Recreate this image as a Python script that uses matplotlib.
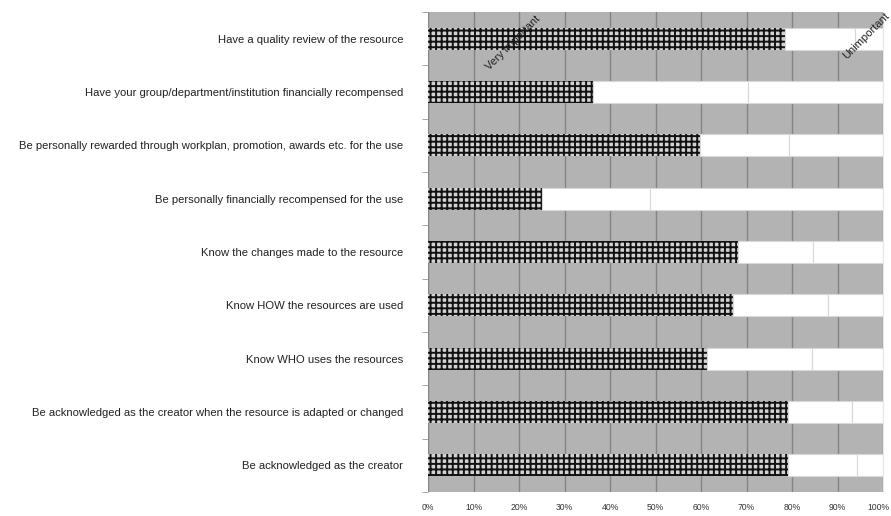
import numpy as np
import matplotlib
matplotlib.use('Agg')
from matplotlib import pyplot as plt
from matplotlib.transforms import ScaledTranslation

plt.rcParams['font.family'] = ['Liberation Sans Narrow', 'Liberation Sans', 'DejaVu Sans']
plt.rcParams['hatch.linewidth'] = 1.4

labels = ['Have a quality review of the resource',
          'Have your group/department/institution financially recompensed',
          'Be personally rewarded through workplan, promotion, awards etc. for the use',
          'Be personally financially recompensed for the use',
          'Know the changes made to the resource',
          'Know HOW the resources are used',
          'Know WHO uses the resources',
          'Be acknowledged as the creator when the resource is adapted or changed',
          'Be acknowledged as the creator']
very_important = [78.5, 36.3, 59.8, 25.0, 68.1, 67.0, 61.3, 79.1, 79.1]
middle = [15.3, 34.0, 19.5, 23.8, 16.5, 20.9, 23.1, 14.1, 15.2]
unimportant = [100 - a - b for a, b in zip(very_important, middle)]
xticks = [0, 10, 20, 30, 40, 50, 60, 70, 80, 90, 100]

fig = plt.figure(figsize=(8.91, 5.16), dpi=100)
ax = fig.add_axes([428/891, 1 - 492/516, 455/891, 480/516])
ax.set_facecolor('#b3b3b3')

y = np.arange(len(labels))[::-1]
h = 0.41
ax.barh(y, very_important, h, color='#d2d2d2', edgecolor='#111111', hatch='+++', linewidth=0)
ax.barh(y, middle, h, left=very_important, color='white', edgecolor='#d8d8d8', linewidth=0.8)
left2 = [a + b for a, b in zip(very_important, middle)]
ax.barh(y, unimportant, h, left=left2, color='white', edgecolor='#d8d8d8', linewidth=0.8)

ax.set_xlim(0, 100)
ax.set_ylim(-0.5, len(labels) - 0.5)
ax.set_xticks(xticks)
ax.set_xticklabels([f'{v}%' for v in xticks], fontsize=6.2, color='#333333')
ax.xaxis.grid(True, color='#848484', linewidth=1.0)
ax.set_axisbelow(True)
ax.tick_params(axis='x', length=0, pad=8)
last = ax.get_xticklabels()[-1]
last.set_transform(last.get_transform() + ScaledTranslation(-3/72, 0, fig.dpi_scale_trans))

ax.set_yticks(y)
ax.set_yticklabels(labels, fontsize=8.1, color='#222222')
ax.set_yticks(np.arange(len(labels) + 1) - 0.5, minor=True)
ax.tick_params(axis='y', which='major', length=0, pad=18)
ax.tick_params(axis='y', which='minor', length=4, color='#999999')

for s in ['top', 'bottom', 'left']:
    ax.spines[s].set_visible(False)
ax.spines['right'].set_color('#e8e8e8')

ax.text(0.187, 0.935, 'Very important', transform=ax.transAxes, rotation=45,
        fontsize=8, ha='center', va='center', color='#222222')
ax.text(0.962, 0.95, 'Unimportant', transform=ax.transAxes, rotation=45,
        fontsize=8, ha='center', va='center', color='#222222')

fig.savefig('out.png', dpi=100)
